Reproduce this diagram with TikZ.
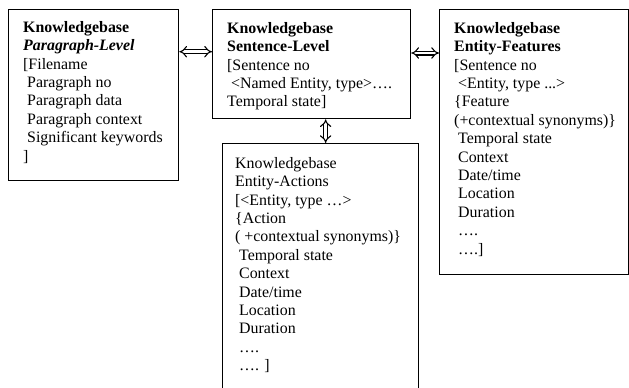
\documentclass[tikz,border=0pt]{standalone}
\usepackage{fontspec}
\setmainfont{Liberation Serif}
\usetikzlibrary{arrows.meta}
\newcommand{\ind}{\hspace*{0.25em}}
\begin{document}
\begin{tikzpicture}[x=1pt,y=-1pt,
  box/.style={draw, line width=1.3pt, rectangle, anchor=north west, inner sep=0pt},
  txt/.style={anchor=north west, inner sep=0pt, align=left, font=\fontsize{15.9}{18.4}\selectfont},
  dbl/.style={double, line width=1.1pt, double distance=2.8pt, {Implies[length=4pt,width=9pt]}-{Implies[length=4pt,width=9pt]}}]
\clip (0,0) rectangle (629,388);
\fill[white] (0,0) rectangle (629,388);
% boxes
\node[box, minimum width=170, minimum height=171] (p) at (8,9) {};
\node[box, minimum width=198, minimum height=109] (s) at (212,9) {};
\node[box, minimum width=189, minimum height=265] (f) at (439,9) {};
\node[box, minimum width=196, minimum height=262] (a) at (222,143) {};
% texts
\node[txt] (pt) at (23,21) {\textbf{Knowledgebase}\\\textbf{\textit{Paragraph-Level}}\\{[}Filename\\\ind Paragraph no\\\ind Paragraph data\\\ind Paragraph context\\\ind Significant keywords\\{]}};
\node[txt] (st) at (227,22) {\textbf{Knowledgebase}\\\textbf{Sentence-Level}\\{[}Sentence no\\\ind <Named Entity, type>….\\Temporal state]};
\node[txt] (ft) at (454,22) {\textbf{Knowledgebase}\\\textbf{Entity-Features}\\{[}Sentence no\\\ind <Entity, type ...>\\\{Feature\\(+contextual synonyms)\}\\\ind Temporal state\\\ind Context\\\ind Date/time\\\ind Location\\\ind Duration\\\ind ….\\\ind ….]};
\node[txt] (at) at (235,157) {Knowledgebase\\Entity-Actions\\{[}<Entity, type …>\\\{Action\\( +contextual synonyms)\}\\\ind Temporal state\\\ind Context\\\ind Date/time\\\ind Location\\\ind Duration\\\ind ….\\\ind …. ]};
% connectors
\draw[dbl] ([yshift=-42.7pt]p.north east) -- ([yshift=-42.7pt]s.north west);
\draw[dbl] ([yshift=-44pt]s.north east) -- ([yshift=-44pt]f.north west);
\draw[dbl] ([xshift=14pt]s.south) -- ([xshift=5pt]a.north);
\end{tikzpicture}
\end{document}
